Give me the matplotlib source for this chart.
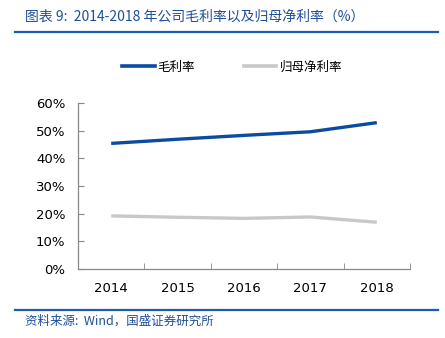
import matplotlib
matplotlib.use("Agg")
import matplotlib.pyplot as plt
from matplotlib.lines import Line2D
import numpy as np

plt.rcParams['font.family'] = ['Noto Sans CJK SC', 'DejaVu Sans']

years = ['2014', '2015', '2016', '2017', '2018']
gross_margin = [45.4, 46.9, 48.3, 49.6, 52.9]
net_margin = [19.2, 18.7, 18.3, 18.8, 16.9]
y_ticks = [0, 10, 20, 30, 40, 50, 60]
series_names = ['毛利率', '归母净利率']
title = '图表 9:  2014-2018 年公司毛利率以及归母净利率（%）'
source = '资料来源:  Wind，国盛证券研究所'

W, H = 445, 338
fig = plt.figure(figsize=(W / 100, H / 100), dpi=100)

ax = fig.add_axes([78 / W, 1 - 269 / H, (410 - 78) / W, (269 - 103) / H])
x = np.arange(len(years))
ax.plot(x, gross_margin, color='#0B4CA0', lw=2.4, solid_capstyle='butt')
ax.plot(x, net_margin, color='#C8C8C8', lw=2.4, solid_capstyle='butt')

ax.set_xlim(-0.5, len(years) - 0.5)
ax.set_ylim(0, 60)
ax.set_yticks(y_ticks)
ax.set_yticklabels([f'{v}%' for v in y_ticks], fontsize=9.5, family='DejaVu Sans')
ax.set_xticks(x)
ax.set_xticklabels(years, fontsize=9.5, family='DejaVu Sans')
ax.set_xticks(np.arange(-0.5, len(years)), minor=True)
ax.tick_params(axis='x', which='major', length=0, pad=9)
ax.tick_params(axis='x', which='minor', direction='in', length=4, color='#888888')
ax.tick_params(axis='y', direction='in', length=4, color='#888888', pad=9)
for s in ['top', 'right']:
    ax.spines[s].set_visible(False)
for s in ['left', 'bottom']:
    ax.spines[s].set_color('#888888')
    ax.spines[s].set_linewidth(0.9)

# legend
handles = [Line2D([], [], color='#0B4CA0', lw=2.6),
           Line2D([], [], color='#C8C8C8', lw=2.6)]
fig.legend(handles, series_names, loc='center', bbox_to_anchor=(232 / W, 1 - 67 / H),
           ncol=2, frameon=False, fontsize=9, handlelength=2.6, handletextpad=0.25,
           columnspacing=3.9)

# title and rules
fig.text(25 / W, 1 - 17 / H, title, color='#1F4E9A', fontsize=10, style='italic',
         va='center', ha='left')
fig.add_artist(Line2D([15 / W, 438 / W], [1 - 32 / H, 1 - 32 / H], color='#1F5BB0', lw=1.6))
fig.add_artist(Line2D([15 / W, 438 / W], [1 - 310 / H, 1 - 310 / H], color='#1F5BB0', lw=1.6))
fig.text(25 / W, 1 - 321 / H, source, color='#1F4E9A', fontsize=9, style='italic',
         va='center', ha='left')

fig.savefig('out.png', dpi=100)
